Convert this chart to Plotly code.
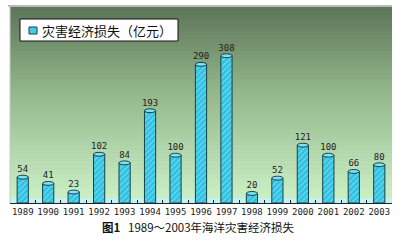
import plotly.graph_objects as go

years = ["1989", "1990", "1991", "1992", "1993", "1994", "1995", "1996",
         "1997", "1998", "1999", "2000", "2001", "2002", "2003"]
losses = [54, 41, 23, 102, 84, 193, 100, 290, 308, 20, 52, 121, 100, 66, 80]
series_name = "灾害经济损失（亿元）"
caption = "<b>图1</b>   1989～2003年海洋灾害经济损失"

W, H = 400, 240
def py(pix):
    return 1 - pix / H

fig = go.Figure()
fig.add_trace(go.Bar(
    x=years, y=losses, name=series_name,
    width=0.44,
    marker=dict(color="#35c8e6", line=dict(color="#16414a", width=1),
                pattern=dict(shape="/", fgcolor="#a6f0fb", bgcolor="#2fc0e0", size=4, solidity=0.35)),
    text=[str(v) for v in losses], textposition="outside", cliponaxis=False,
    constraintext="none",
    textfont=dict(family="DejaVu Sans Mono", size=9, color="#222222"),
    showlegend=False,
))

shapes = []
# gradient background bands
x0, x1 = 10 / W, 392 / W
top_pix, bot_pix = 7, 198
stops = [(0.0, (94, 118, 90)), (0.45, (148, 184, 140)), (1.0, (202, 238, 196))]
def col(t):
    for (a, ca), (b, cb) in zip(stops[:-1], stops[1:]):
        if a <= t <= b:
            f = (t - a) / (b - a)
            c = [round(ca[k] + (cb[k] - ca[k]) * f) for k in range(3)]
            return "rgb(%d,%d,%d)" % tuple(c)
    return "rgb(%d,%d,%d)" % stops[-1][1]
n = 48
for i in range(n):
    p0 = top_pix + (bot_pix - top_pix) * i / n
    p1 = top_pix + (bot_pix - top_pix) * (i + 1) / n + 0.6
    shapes.append(dict(type="rect", xref="paper", yref="paper", x0=x0, x1=x1,
                       y0=py(p1), y1=py(p0), fillcolor=col(i / (n - 1)),
                       line=dict(width=0), layer="below"))
# floor band
shapes.append(dict(type="rect", xref="paper", yref="paper", x0=x0, x1=x1,
                   y0=py(203), y1=py(198), fillcolor="#c4f2f2", line=dict(width=0), layer="below"))
# top frame line
shapes.append(dict(type="line", xref="paper", yref="paper", x0=x0 - 0.005, x1=x1,
                   y0=py(6), y1=py(6), line=dict(color="#b8bcb8", width=2)))
shapes.append(dict(type="line", xref="paper", yref="paper", x0=x0, x1=x0,
                   y0=py(203), y1=py(6), line=dict(color="#c8ccc8", width=1)))
# cylinder tops
for i, v in enumerate(losses):
    shapes.append(dict(type="circle", xref="x", yref="y", x0=i - 0.22, x1=i + 0.22,
                       y0=v - 4, y1=v + 4, fillcolor="#7fe3f3",
                       line=dict(color="#16414a", width=1)))
# legend box and swatch
shapes.append(dict(type="rect", xref="paper", yref="paper", x0=20 / W, x1=178 / W,
                   y0=py(41), y1=py(19), fillcolor="white",
                   line=dict(color="#111111", width=1)))
shapes.append(dict(type="rect", xref="paper", yref="paper", x0=29 / W, x1=37 / W,
                   y0=py(34), y1=py(27), fillcolor="#45cbe8",
                   line=dict(color="#16414a", width=1)))

fig.update_layout(
    width=W, height=H, margin=dict(l=0, r=0, t=0, b=0),
    paper_bgcolor="white", plot_bgcolor="rgba(0,0,0,0)",
    shapes=shapes, showlegend=False,
    xaxis=dict(domain=[x0, x1], type="category", showline=True, linecolor="#222222",
               linewidth=1, ticks="inside", tickson="boundaries", ticklen=3,
               tickcolor="#222222", showgrid=False, tickangle=0,
               tickfont=dict(family="DejaVu Sans Mono", size=9, color="#222222")),
    yaxis=dict(domain=[py(203), py(7)], range=[0, 410], visible=False),
    annotations=[
        dict(text=caption, xref="paper", yref="paper", x=0.495, y=py(227),
             showarrow=False, xanchor="center", yanchor="middle",
             font=dict(family="Noto Sans CJK SC", size=11.5, color="#111111")),
        dict(text=series_name, xref="paper", yref="paper", x=40 / W, y=py(30.5),
             showarrow=False, xanchor="left", yanchor="middle",
             font=dict(family="Noto Sans CJK SC", size=13, color="#111111")),
    ],
    bargap=0.5,
)
fig.write_html("out.html")
